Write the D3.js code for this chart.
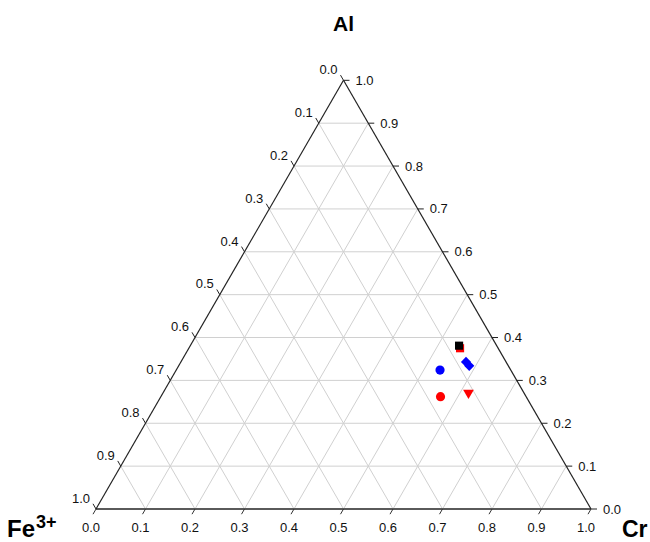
<!DOCTYPE html>
<html>
<head>
<meta charset="utf-8">
<script src="https://cdn.jsdelivr.net/npm/d3@7"></script>
<style>
  body { margin: 0; background: #fff; }
  svg { display: block; font-family: 'Liberation Sans', Arial, sans-serif; }
</style>
</head>
<body>
<svg id="chart"></svg>
<script>
// ternary fractions (Fe3+ = 1 - Al - Cr)
const tickValues = [0, 0.1, 0.2, 0.3, 0.4, 0.5, 0.6, 0.7, 0.8, 0.9, 1.0];
const gridValues = [0.1, 0.2, 0.3, 0.4, 0.5, 0.6, 0.7, 0.8, 0.9];
const pointNames = ['redSquare', 'blackSquare', 'blueDiamondA', 'blueDiamondB', 'blueCircle', 'redCircle', 'redTriangle'];
const pointAl = [0.375, 0.381, 0.343, 0.334, 0.324, 0.262, 0.271];
const pointCr = [0.548, 0.543, 0.576, 0.587, 0.533, 0.565, 0.617];
const pointShape = ['square', 'square', 'diamond', 'diamond', 'circle', 'circle', 'triangleDown'];
const pointColor = ['#ff0000', '#000000', '#0000ff', '#0000ff', '#0000ff', '#ff0000', '#ff0000'];

const width = 650;
const height = 542;
const left = 96, right = 591, bottom = 509;
const side = right - left;
const top_ = bottom - side * Math.sqrt(3) / 2;
const TickLen = 6;

const svg = d3.select('#chart').attr('width', width).attr('height', height).attr('viewBox', [0, 0, width, height]);

// cartesian scales for the barycentric projection
const x_scale = d3.scaleLinear([0, 1], [left, right]);
const y_scale = d3.scaleLinear([0, 1], [bottom, top_]);
const project = (al, cr) => [x_scale(cr + al / 2), y_scale(al)];

/**
 * grid
 */
const grid = svg.append('g').attr('stroke', '#d0d0d0').attr('stroke-width', 1).attr('fill', 'none');
const gridLines = [];
gridValues.forEach((v) => {
  gridLines.push([project(v, 0), project(v, 1 - v)]); // constant Al
  gridLines.push([project(0, v), project(1 - v, v)]); // constant Cr
  gridLines.push([project(1 - v, 0), project(0, 1 - v)]); // constant Fe
});
grid
  .selectAll('line')
  .data(gridLines)
  .join('line')
  .attr('x1', (d) => d[0][0])
  .attr('y1', (d) => d[0][1])
  .attr('x2', (d) => d[1][0])
  .attr('y2', (d) => d[1][1]);

/**
 * triangle edges
 */
const pFe = project(0, 0), pCr = project(0, 1), pAl = project(1, 0);
const edges = svg.append('g').attr('fill', 'none');
edges.append('line').attr('x1', pFe[0]).attr('y1', pFe[1]).attr('x2', pCr[0]).attr('y2', pCr[1])
  .attr('stroke', '#5a5a5a').attr('stroke-width', 1.8);
edges.append('line').attr('x1', pFe[0]).attr('y1', pFe[1]).attr('x2', pAl[0]).attr('y2', pAl[1])
  .attr('stroke', '#222').attr('stroke-width', 1.2);
edges.append('line').attr('x1', pAl[0]).attr('y1', pAl[1]).attr('x2', pCr[0]).attr('y2', pCr[1])
  .attr('stroke', '#222').attr('stroke-width', 1.2);

/**
 * ticks + labels
 */
const fmt = d3.format('.1f');
const dx = 0.5 * TickLen, dy = Math.sqrt(3) / 2 * TickLen;
const axes = svg.append('g').attr('font-size', 13).attr('fill', '#111');

// left edge: Fe3+ fraction, 0 at top -> 1 at bottom
tickValues.forEach((v) => {
  const [x, y] = project(1 - v, 0);
  axes.append('line').attr('x1', x).attr('y1', y).attr('x2', x - dx).attr('y2', y - dy)
    .attr('stroke', '#222').attr('stroke-width', 1);
  axes.append('text').attr('x', x - dx - 3).attr('y', y - dy - 1).attr('text-anchor', 'end').text(fmt(v));
});

// right edge: Al fraction, 0 at bottom -> 1 at top
tickValues.forEach((v) => {
  const [x, y] = project(v, 1 - v);
  axes.append('line').attr('x1', x).attr('y1', y).attr('x2', x + TickLen).attr('y2', y)
    .attr('stroke', '#222').attr('stroke-width', 1);
  axes.append('text').attr('x', x + TickLen + 6).attr('y', y + 4.5).text(fmt(v));
});

// bottom edge: Cr fraction, 0 at left -> 1 at right
tickValues.forEach((v) => {
  const [x, y] = project(0, v);
  axes.append('line').attr('x1', x).attr('y1', y).attr('x2', x - dx).attr('y2', y + dy)
    .attr('stroke', '#333').attr('stroke-width', 1);
  axes.append('text').attr('x', x - 5).attr('y', y + 23).attr('text-anchor', 'middle').text(fmt(v));
});

/**
 * vertex titles
 */
const titles = svg.append('g').attr('font-weight', 'bold').attr('fill', '#000');
titles.append('text').attr('x', pAl[0]).attr('y', 31).attr('text-anchor', 'middle').attr('font-size', 21).text('Al');
const fe = titles.append('text').attr('x', 7).attr('y', 537).attr('font-size', 24);
fe.append('tspan').text('Fe');
fe.append('tspan').attr('font-size', 18).attr('dy', -9).attr('dx', 1).text('3+');
titles.append('text').attr('x', 622).attr('y', 537).attr('font-size', 23).text('Cr');

/**
 * points
 */
const symbolType = { square: d3.symbolSquare, circle: d3.symbolCircle, diamond: d3.symbolSquare, triangleDown: d3.symbolTriangle };
const symbolSize = { square: 66, circle: 66, diamond: 52, triangleDown: 50 };
const symbolRotate = { square: 0, circle: 0, diamond: 45, triangleDown: 180 };
const points = pointNames.map((name, i) => ({ name, al: pointAl[i], cr: pointCr[i], shape: pointShape[i], color: pointColor[i] }));
svg
  .append('g')
  .selectAll('path')
  .data(points)
  .join('path')
  .attr('d', (d) => d3.symbol(symbolType[d.shape], symbolSize[d.shape])())
  .attr('transform', (d) => {
    const [x, y] = project(d.al, d.cr);
    return `translate(${x},${y}) rotate(${symbolRotate[d.shape]})`;
  })
  .attr('fill', (d) => d.color);
</script>
</body>
</html>
